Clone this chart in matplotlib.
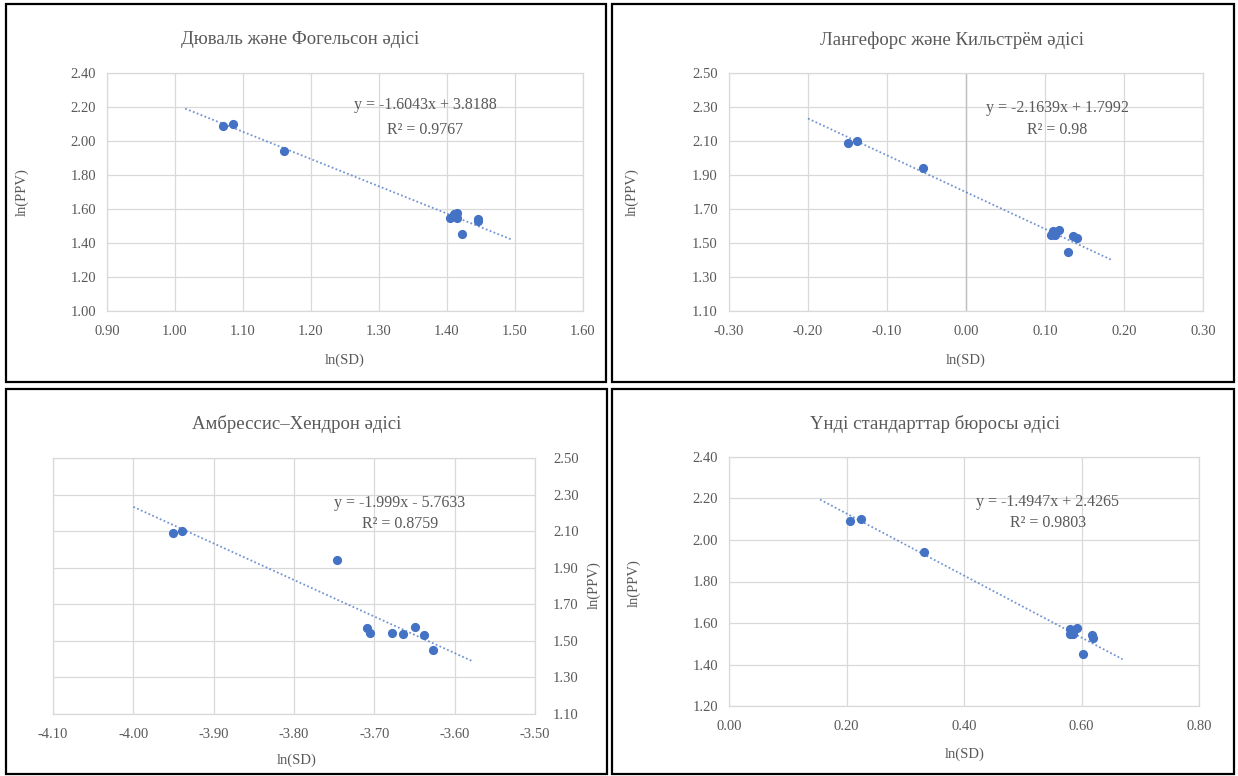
import matplotlib
matplotlib.use("Agg")
import matplotlib.pyplot as plt
from matplotlib.patches import Rectangle
import numpy as np

plt.rcParams['font.family'] = ['Liberation Serif', 'DejaVu Serif']

W, H = 1238, 776

# ---- data ----
ln_ppv = [2.09, 2.10, 1.94, 1.575, 1.57, 1.545, 1.545, 1.54, 1.53, 1.45]

x_duvall = [1.070, 1.085, 1.160, 1.415, 1.410, 1.405, 1.415, 1.445, 1.445, 1.422]
x_langefors = [-0.149, -0.138, -0.054, 0.118, 0.110, 0.108, 0.113, 0.135, 0.140, 0.129]
x_ambraseys = [-3.951, -3.939, -3.746, -3.649, -3.709, -3.706, -3.678, -3.664, -3.638, -3.627]
x_indian = [0.206, 0.225, 0.332, 0.592, 0.580, 0.580, 0.585, 0.618, 0.620, 0.603]

titles = ["Дюваль және Фогельсон әдісі", "Лангефорс және Кильстрём әдісі",
          "Амбрессис–Хендрон әдісі", "Үнді стандарттар бюросы әдісі"]
slopes = [-1.6043, -2.1639, -1.999, -1.4947]
intercepts = [3.8188, 1.7992, -5.7633, 2.4265]
eq_texts = ["y = -1.6043x + 3.8188", "y = -2.1639x + 1.7992",
            "y = -1.999x - 5.7633", "y = -1.4947x + 2.4265"]
r2_texts = ["R² = 0.9767", "R² = 0.98", "R² = 0.8759", "R² = 0.9803"]
trend_ranges = [(1.015, 1.495), (-0.20, 0.185), (-4.00, -3.578), (0.155, 0.67)]

x_ticks = [np.arange(0.90, 1.6001, 0.10), np.arange(-0.30, 0.3001, 0.10),
           np.arange(-4.10, -3.4999, 0.10), np.arange(0.00, 0.8001, 0.20)]
y_ticks = [np.arange(1.00, 2.4001, 0.20), np.arange(1.10, 2.5001, 0.20),
           np.arange(1.10, 2.5001, 0.20), np.arange(1.20, 2.4001, 0.20)]

xs = [x_duvall, x_langefors, x_ambraseys, x_indian]

# pixel layout (x0, x1, y0, y1) of plot areas
areas = [(107, 583, 73, 311), (729, 1203, 73, 311), (53, 535, 458, 714), (729, 1199, 457, 706)]
boxes = [(6, 4, 606, 382), (612, 4, 1234, 382), (6, 389, 607, 774), (612, 389, 1234, 774)]
title_pos = [(300, 40), (952, 40), (297, 424), (935, 424)]
xlabel_pos = [(345, 360), (966, 360), (297, 760), (965, 754)]
ylabel_pos = [(22, 192), (632, 192), (594, 585), (634, 583)]
eq_pos = [(425, 105, 130), (1057, 108, 130), (400, 503, 524), (1048, 502, 523)]

TXT = '#595959'
GRID = '#D9D9D9'
BLUE = '#4472C4'

fig = plt.figure(figsize=(W / 100, H / 100), dpi=100)

def fx(px):
    return px / W

def fy(py):
    return 1 - py / H

for (bx0, by0, bx1, by1) in boxes:
    fig.patches.append(Rectangle((fx(bx0), fy(by1)), fx(bx1 - bx0), (by1 - by0) / H,
                                 transform=fig.transFigure, fill=False,
                                 edgecolor='black', linewidth=1.6))

for i in range(4):
    x0, x1, y0, y1 = areas[i]
    ax = fig.add_axes([fx(x0), fy(y1), fx(x1 - x0), (y1 - y0) / H])
    xt, yt = x_ticks[i], y_ticks[i]
    ax.set_xlim(xt[0], xt[-1])
    ax.set_ylim(yt[0], yt[-1])
    ax.set_xticks(xt)
    ax.set_yticks(yt)
    ax.set_xticklabels([f"{v:.2f}" for v in xt])
    ax.set_yticklabels([f"{v:.2f}" for v in yt])
    ax.grid(True, color=GRID, linewidth=0.9)
    ax.set_axisbelow(True)
    for s in ax.spines.values():
        s.set_color(GRID)
        s.set_linewidth(0.9)
    ax.tick_params(length=0, labelsize=10.5, labelcolor=TXT, pad=8)
    ax.tick_params(axis='x', pad=10)
    if i == 1:
        ax.axvline(0.0, color='#BFBFBF', linewidth=1.0, zorder=1)
    if i == 2:
        ax.yaxis.tick_right()
        ax.tick_params(axis='y', pad=13)

    lx = np.array(trend_ranges[i])
    ax.plot(lx, slopes[i] * lx + intercepts[i], linestyle=(0, (1, 1.3)),
            color=BLUE, linewidth=1.3, alpha=0.75, zorder=2)
    ax.plot(xs[i], ln_ppv, 'o', color=BLUE, markersize=5.6, zorder=3)

    tx, ty = title_pos[i]
    fig.text(fx(tx), fy(ty), titles[i], ha='center', va='center', fontsize=13.5, color=TXT)
    lx_, ly_ = xlabel_pos[i]
    fig.text(fx(lx_), fy(ly_), "ln(SD)", ha='center', va='center', fontsize=10.5, color=TXT)
    yx_, yy_ = ylabel_pos[i]
    fig.text(fx(yx_), fy(yy_), "ln(PPV)", ha='center', va='center', fontsize=10.5,
             color=TXT, rotation=90)
    ex, ey1, ey2 = eq_pos[i]
    fig.text(fx(ex), fy(ey1), eq_texts[i], ha='center', va='center', fontsize=11.5, color=TXT)
    fig.text(fx(ex), fy(ey2), r2_texts[i], ha='center', va='center', fontsize=11.5, color=TXT)

fig.savefig("out.png", dpi=100)
